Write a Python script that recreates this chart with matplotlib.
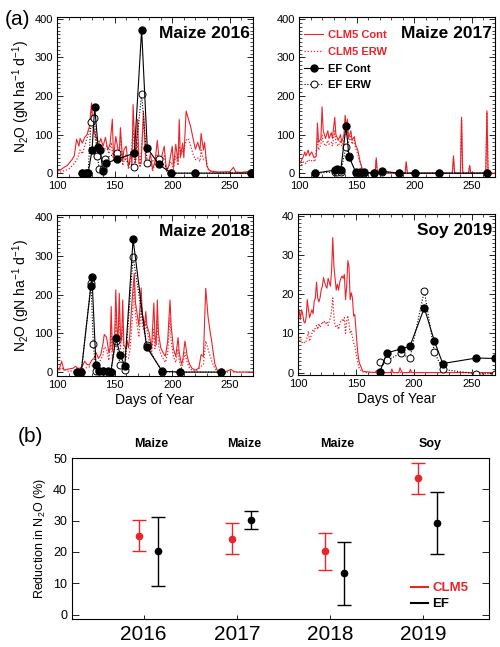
import numpy as np
import matplotlib
matplotlib.use("Agg")
import matplotlib.pyplot as plt
from matplotlib.lines import Line2D
from matplotlib.ticker import MultipleLocator

plt.rcParams['font.family'] = ['Liberation Sans', 'DejaVu Sans']
plt.rcParams['mathtext.fontset'] = 'custom'
plt.rcParams['mathtext.rm'] = 'Liberation Sans'
plt.rcParams['mathtext.it'] = 'Liberation Sans:italic'
plt.rcParams['mathtext.bf'] = 'Liberation Sans:bold'

RED = '#e8252b'

# ---------------- panel (a) data ----------------
titles = ["Maize 2016", "Maize 2017", "Maize 2018", "Soy 2019"]

# CLM5 Cont (day, value)
clm_cont_2016 = [(100,5),(103,8),(106,15),(109,20),(111,28),(113,35),(115,45),(117,88),(119,70),(120,90),
    (122,78),(124,93),(126,100),(128,120),(130,182),(131,130),(133,100),(135,85),(137,80),(138,90),(140,70),
    (142,93),(144,60),(146,75),(148,140),(149,40),(151,95),(153,60),(154,45),(155,118),(157,30),(158,60),
    (160,70),(162,15),(164,55),(165,20),(166,178),(168,30),(170,140),(171,25),(173,25),(175,160),(177,35),
    (179,20),(181,50),(183,10),(185,30),(187,85),(189,20),(191,45),(193,70),(195,5),(197,20),(200,70),
    (201,15),(203,75),(205,30),(206,139),(207,40),(209,78),(210,40),(212,161),(214,140),(216,120),(218,90),
    (220,62),(222,80),(224,60),(225,103),(227,60),(228,80),(230,18),(232,8),(234,5),(240,3),(250,4),
    (253,15),(255,3),(260,2),(265,4),(268,3),(270,2)]
clm_erw_2016 = [(100,0),(105,5),(110,10),(115,25),(118,40),(120,60),(122,50),(124,70),(126,90),(128,110),
    (130,170),(131,120),(133,90),(135,70),(137,65),(139,55),(141,60),(143,70),(145,50),(147,80),(149,30),
    (151,60),(153,45),(155,90),(157,20),(160,50),(162,10),(164,40),(166,110),(168,20),(170,80),(172,15),
    (175,140),(177,25),(179,15),(181,30),(183,5),(187,50),(189,15),(191,30),(193,45),(195,5),(199,30),
    (201,10),(203,45),(205,20),(206,70),(208,50),(210,60),(212,85),(214,90),(216,70),(218,50),(220,35),
    (222,40),(224,30),(225,60),(227,35),(229,40),(231,10),(234,3),(240,1),(270,1)]

clm_cont_2017 = [(100,23),(102,32),(104,45),(105,55),(106,45),(108,60),(109,45),(111,55),(113,40),(115,45),
    (116,130),(117,80),(119,90),(120,172),(121,110),(123,90),(125,110),(126,90),(128,105),(129,90),
    (131,145),(132,100),(134,85),(136,100),(137,80),(139,100),(140,150),(141,120),(142,140),(143,90),
    (145,110),(146,85),(148,95),(149,75),(151,60),(153,30),(155,10),(157,3),(160,0),(166,0),(167,40),
    (168,0),(192,0),(193,30),(194,0),(233,0),(234,45),(235,0),(240,0),(241,145),(242,0),(247,0),(248,20),
    (249,0),(262,0),(263,162),(264,0),(270,0)]
clm_erw_2017 = [(100,15),(102,20),(104,30),(106,25),(108,35),(110,30),(112,35),(114,30),(116,90),(117,60),
    (119,75),(120,100),(121,80),(123,70),(125,85),(126,75),(128,80),(129,70),(131,110),(132,80),(134,70),
    (136,85),(137,70),(139,85),(140,120),(141,100),(142,110),(143,80),(145,95),(146,75),(148,85),(149,65),
    (151,50),(153,25),(155,8),(157,2),(160,0),(166,0),(167,35),(168,0),(192,0),(193,25),(194,0),(233,0),
    (234,40),(235,0),(240,0),(241,140),(242,0),(247,0),(248,18),(249,0),(262,0),(263,158),(264,0),(270,0)]

clm_cont_2018 = [(100,3),(102,8),(104,28),(106,5),(110,8),(114,10),(116,15),(118,10),(120,10),(122,15),
    (124,28),(126,20),(128,18),(130,30),(132,35),(134,50),(136,35),(138,45),(140,75),(141,97),(143,90),
    (145,50),(146,60),(147,169),(148,55),(150,90),(151,212),(152,110),(153,90),(154,203),(155,100),(156,80),
    (157,186),(158,70),(160,60),(161,80),(162,63),(163,90),(165,180),(167,255),(168,180),(170,140),
    (171,120),(173,217),(174,150),(176,120),(177,156),(178,120),(180,100),(182,60),(184,178),(185,90),
    (186,70),(187,186),(188,100),(190,63),(192,50),(194,41),(196,80),(198,186),(199,120),(201,60),(203,40),
    (205,89),(206,50),(208,20),(209,30),(211,80),(213,40),(215,20),(217,10),(220,5),(223,10),(225,45),
    (227,40),(229,216),(231,143),(233,100),(234,83),(236,40),(237,20),(239,5),(241,0),(245,0),(247,2),
    (251,7),(253,2),(255,0),(270,0)]
clm_erw_2018 = [(100,0),(104,10),(110,2),(120,5),(124,10),(130,15),(134,25),(136,20),(140,45),(141,65),
    (143,60),(145,30),(147,100),(148,35),(150,60),(151,150),(152,70),(154,140),(155,60),(157,120),(158,45),
    (160,40),(162,35),(163,50),(165,120),(167,230),(168,150),(170,110),(171,90),(173,170),(174,120),
    (176,100),(177,130),(178,110),(180,80),(182,45),(184,110),(185,60),(187,130),(188,70),(190,45),(192,35),
    (194,25),(196,50),(198,140),(199,80),(201,40),(203,25),(205,60),(206,30),(208,10),(209,20),(211,50),
    (213,25),(215,10),(217,5),(220,2),(225,15),(227,20),(229,80),(231,60),(233,40),(234,30),(236,15),
    (238,5),(241,0),(270,0)]

clm_cont_2019 = [(100,14),(101,16),(102,13.5),(103,16),(104,15),(105,13),(106,12.6),(107,14),(108,18.6),
    (109,16),(110,14),(111,15),(112,16),(113,15),(114,18.2),(115,19),(116,23),(117,19),(118,18),(119,19),
    (120,21),(121,22),(122,24.2),(123,23),(124,22),(125,21.5),(126,24),(127,23),(128,22),(129,26),(130,34.4),
    (131,27),(132,24),(133,21),(134,22.5),(135,21),(136,23),(137,24),(138,24.6),(139,24),(140,25),(141,18.6),
    (142,22),(143,28.5),(144,27),(145,18.6),(146,20.3),(147,19),(148,14.4),(149,14.8),(150,11),(151,7),
    (152,4),(153,2.4),(155,1),(156,0.3),(160,0.2),(166,0),(168,0.5),(169,0.6),(170,0),(180,0),(181,0.9),
    (182,0),(187,0),(188,1.2),(189,0.5),(190,0),(196,0),(197,0.8),(198,0),(270,0)]
clm_erw_2019 = [(100,8.8),(101,8),(102,9),(103,8),(104,7.5),(105,7.8),(106,7.5),(107,8),(108,9),(109,10.5),
    (110,8),(111,9),(112,10),(113,11),(114,10.5),(115,11.5),(116,12),(117,11),(118,12.5),(119,11.5),(120,12),
    (121,13),(122,12.5),(123,13),(124,12.5),(125,13),(126,12),(127,13),(128,14),(129,16),(130,19),(131,14),
    (132,12),(133,11.5),(134,12),(135,11),(136,12.5),(137,13),(138,13.5),(139,13),(140,14),(141,10),(142,13),
    (143,14.5),(144,12.5),(145,10),(146,10.5),(147,9),(148,7.5),(149,7),(150,5),(151,3.5),(152,2),(153,1),
    (155,0.3),(158,0),(270,0)]

# EF observations (day, value)
ef_cont_2016 = [(122,0),(125,0),(127,0),(130.4,60),(132.7,172),(135.6,69),(137.6,60),(139.6,6),(142.4,26),
    (151.9,36),(167.1,52),(173.4,372),(178.3,65),(188.3,23),(199,0),(219.3,0),(268,0)]
ef_erw_2016 = [(122,0),(125,0),(127,0),(129.5,133),(132.4,142),(135,45),(136.7,10),(139.6,12),(141.9,38),
    (151.9,53),(167,16),(173.4,206),(178.3,26),(188.3,38),(199,0),(219.3,0),(268,0)]

ef_cont_2017 = [(113.9,0),(131.3,8),(133.3,10),(136.2,8),(140.8,122),(143.4,42),(149.2,3),(153,2),(156.8,3),
    (165,0),(172.4,5),(187,0),(201,0),(221.6,0),(263,0)]
ef_erw_2017 = [(113.9,0),(131.3,3),(133.3,4),(136.2,3),(140.8,68),(143.4,45),(149.2,1),(153,1),(156.8,1),
    (165,0),(172.4,2),(187,0),(201,0),(221.6,0),(263,0)]

ef_cont_2018 = [(117.2,0),(121,0),(129.4,222),(130.3,246),(133.8,18),(136,2),(139.6,2),(144,2),(146.7,0),
    (151,88),(154.8,45),(158.8,16),(166,343),(177.7,65),(191.2,2),(207,0),(242.2,0)]
ef_erw_2018 = [(117.2,0),(121,0),(129.5,229),(131.5,72),(133.8,3),(136,2),(139.6,4),(144,1),(146.7,0),
    (151,80),(154.8,18),(158.8,5),(166,297),(177.7,70),(191.2,1),(207,0),(242.2,0)]

ef_cont_2019 = [(170.7,0.2),(176.7,5.0),(188.5,6.0),(196.6,6.7),(209,16.5),(217.7,8.0),(224.9,2.3),
    (253.7,3.7),(270,3.6)]
ef_erw_2019 = [(170.7,2.8),(176.7,3.1),(188.5,4.9),(196.6,3.7),(209,20.8),(217.7,5.2),(224.9,0.8),
    (253.7,-0.3),(270,-0.3)]

clm_cont = [clm_cont_2016, clm_cont_2017, clm_cont_2018, clm_cont_2019]
clm_erw = [clm_erw_2016, clm_erw_2017, clm_erw_2018, clm_erw_2019]
ef_cont = [ef_cont_2016, ef_cont_2017, ef_cont_2018, ef_cont_2019]
ef_erw = [ef_erw_2016, ef_erw_2017, ef_erw_2018, ef_erw_2019]
ymax = [400, 400, 400, 40]

# ---------------- panel (b) data ----------------
years = [2016, 2017, 2018, 2019]
crops = ["Maize", "Maize", "Maize", "Soy"]
clm_red = [25.2, 24.2, 20.2, 43.5]
clm_err = [5.0, 5.0, 6.0, 5.0]
ef_red = [20.2, 30.2, 13.2, 29.2]
ef_err = [11.0, 3.0, 10.0, 10.0]

fig = plt.figure(figsize=(5.0, 6.47), dpi=100)

boxes = [(0.114, 0.7264, 0.392, 0.2473), (0.598, 0.7264, 0.392, 0.2473),
         (0.114, 0.4189, 0.392, 0.2488), (0.596, 0.4205, 0.394, 0.2488)]

def xy(pts):
    a = np.array(pts, dtype=float)
    return a[:, 0], a[:, 1]

for i in range(4):
    ax = fig.add_axes(boxes[i])
    x, y = xy(clm_cont[i])
    ax.plot(x, y, color=RED, lw=0.8, label='CLM5 Cont')
    x, y = xy(clm_erw[i])
    ax.plot(x, y, color=RED, lw=0.9, ls=(0, (1, 1.5)), label='CLM5 ERW')
    x, y = xy(ef_erw[i])
    ax.plot(x, y, color='black', lw=0.8, ls=(0, (1, 1.5)), marker='o', ms=5,
            mfc='white', mec='black', mew=0.7, label='EF ERW')
    x, y = xy(ef_cont[i])
    ax.plot(x, y, color='black', lw=0.8, marker='o', ms=5, mfc='black',
            mec='black', label='EF Cont')
    ax.set_xlim(100, 270)
    if ymax[i] == 400:
        ax.set_ylim(-10, 405)
        ax.yaxis.set_major_locator(MultipleLocator(100))
        ax.yaxis.set_minor_locator(MultipleLocator(10))
    else:
        ax.set_ylim(-0.6, 40.4)
        ax.yaxis.set_major_locator(MultipleLocator(10))
        ax.yaxis.set_minor_locator(MultipleLocator(1))
    ax.xaxis.set_major_locator(MultipleLocator(50))
    ax.xaxis.set_minor_locator(MultipleLocator(10))
    ax.tick_params(which='both', direction='in', top=True, right=True, labelsize=8, pad=3)
    ax.tick_params(which='major', length=4, width=0.6)
    ax.tick_params(which='minor', length=2, width=0.5)
    for s in ax.spines.values():
        s.set_linewidth(0.8)
    ax.text(0.985, 0.9, titles[i], transform=ax.transAxes, ha='right', va='center',
            fontsize=12.5, fontweight='bold')
    if i in (0, 2):
        ax.set_ylabel("N$_2$O (gN ha$^{-1}$ d$^{-1}$)", fontsize=10, labelpad=2)
    if i in (2, 3):
        ax.set_xlabel("Days of Year", fontsize=10, labelpad=2)
    if i == 1:
        handles = [Line2D([], [], color=RED, lw=0.8),
                   Line2D([], [], color=RED, lw=0.9, ls=(0, (1, 1.5))),
                   Line2D([], [], color='black', lw=0.8, marker='o', ms=5, mfc='black'),
                   Line2D([], [], color='black', lw=0.8, ls=(0, (1, 1.5)), marker='o', ms=5,
                          mfc='white', mew=0.7)]
        ax.legend(handles, ['CLM5 Cont', 'CLM5 ERW', 'EF Cont', 'EF ERW'], loc='upper left',
                  bbox_to_anchor=(-0.025, 0.98), frameon=False, handlelength=1.7,
                  handletextpad=0.45, labelspacing=0.6,
                  labelcolor=[RED, RED, 'black', 'black'],
                  prop={'weight': 'bold', 'size': 8})

fig.text(0.01, 0.985, "(a)", fontsize=15, va='top', ha='left')

# ---------------- panel (b) ----------------
axb = fig.add_axes((0.144, 0.0433, 0.834, 0.2488))
xr = np.array(years) - 0.05
xb = np.array(years) + 0.15
axb.errorbar(xr, clm_red, yerr=clm_err, fmt='o', color=RED, ms=4.5, capsize=5,
             elinewidth=1.0, capthick=1.0)
axb.errorbar(xb, ef_red, yerr=ef_err, fmt='o', color='black', ms=4.5, capsize=5,
             elinewidth=1.0, capthick=1.0)
axb.set_xlim(2015.23, 2019.71)
axb.set_ylim(-1.4, 50)
axb.set_xticks(years)
axb.set_xticklabels([str(y) for y in years], fontsize=15)
axb.yaxis.set_major_locator(MultipleLocator(10))
axb.tick_params(axis='y', direction='in', right=True, labelsize=9, length=5, width=0.6)
axb.tick_params(axis='x', direction='in', length=3, width=0.6, pad=4)
axb.set_ylabel("Reduction in N$_2$O (%)", fontsize=9, labelpad=4)
for s in axb.spines.values():
    s.set_linewidth(0.8)
for yr, c in zip(years, crops):
    axb.text(yr + 0.08, 1.085, c, transform=axb.get_xaxis_transform(), ha='center',
             va='center', fontsize=9, fontweight='bold')
hb = [Line2D([], [], color=RED, lw=1.5), Line2D([], [], color='black', lw=1.5)]
axb.legend(hb, ['CLM5', 'EF'], loc='lower left', bbox_to_anchor=(0.785, -0.02),
           frameon=False, handlelength=1.3, handletextpad=0.3, labelspacing=0.3,
           labelcolor=[RED, 'black'], prop={'weight': 'bold', 'size': 9.5})
fig.text(0.035, 0.325, "(b)", fontsize=15, va='center', ha='left')

fig.savefig("out.png", dpi=100)
